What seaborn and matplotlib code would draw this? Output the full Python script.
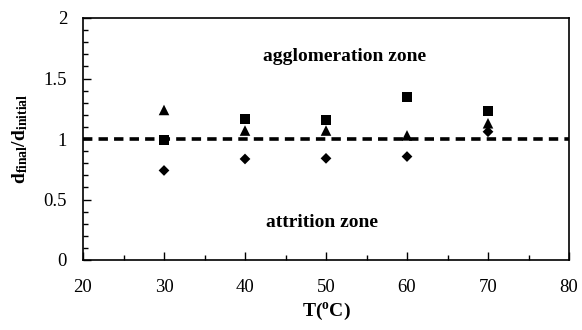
import numpy as np
import pandas as pd
import matplotlib
matplotlib.use("Agg")
import matplotlib.pyplot as plt
import seaborn as sns
from matplotlib.ticker import MultipleLocator

# Temperatures (degC) and size ratios d_final/d_initial for three runs
temperature = [30, 40, 50, 60, 70]
ratio_square = [0.99, 1.165, 1.157, 1.35, 1.23]
ratio_triangle = [1.24, 1.07, 1.07, 1.03, 1.13]
ratio_diamond = [0.74, 0.835, 0.84, 0.855, 1.06]
series_names = ["square", "triangle", "diamond"]

x_ticks = [20, 30, 40, 50, 60, 70, 80]
y_ticks = [0, 0.5, 1, 1.5, 2]
y_tick_labels = ["0", "0.5", "1", "1.5", "2"]

df = pd.concat([
    pd.DataFrame({"T": temperature, "ratio": vals, "series": name})
    for name, vals in zip(series_names, [ratio_square, ratio_triangle, ratio_diamond])
], ignore_index=True)

sns.set_theme(style="ticks")
plt.rcParams["font.family"] = ["Liberation Serif", "DejaVu Serif"]
plt.rcParams["mathtext.fontset"] = "custom"
plt.rcParams["mathtext.rm"] = "Liberation Serif"
plt.rcParams["mathtext.it"] = "Liberation Serif:italic"
plt.rcParams["mathtext.bf"] = "Liberation Serif:bold"

fig = plt.figure(figsize=(5.82, 3.30), dpi=100)
ax = fig.add_axes([83 / 582, 1 - 260 / 330, (569 - 83) / 582, (260 - 18) / 330])

# reference line separating the two zones
ax.plot([20, 80], [1, 1], color="black", lw=2.6, linestyle=(0, (2.6, 1.7)), zorder=1)

sns.scatterplot(
    data=df, x="T", y="ratio", style="series", size="series", ax=ax,
    markers={"square": "s", "triangle": "^", "diamond": "D"},
    sizes={"square": 52, "triangle": 58, "diamond": 30},
    color="black", edgecolor="black", linewidth=0,
    legend=False, zorder=3,
)

ax.set_xlim(20, 80)
ax.set_ylim(0, 2)
ax.set_xticks(x_ticks)
ax.set_yticks(y_ticks)
ax.set_yticklabels(y_tick_labels)
ax.xaxis.set_minor_locator(MultipleLocator(5))
ax.yaxis.set_minor_locator(MultipleLocator(0.1))
ax.tick_params(axis="both", which="major", direction="in", length=5.5, width=1.0,
               labelsize=13.5, color="black", labelcolor="black")
ax.tick_params(axis="both", which="minor", direction="in", length=3.5, width=1.0, color="black")
ax.tick_params(axis="x", which="major", pad=14)
ax.tick_params(axis="y", which="major", pad=11.5)

for side in ["left", "bottom", "top", "right"]:
    ax.spines[side].set_visible(True)
    ax.spines[side].set_color("black")
    ax.spines[side].set_linewidth(1.2)

ax.set_xlabel(r"$\mathbf{T(^{o}C)}$", fontsize=14, color="black", labelpad=3)
ax.set_ylabel(r"$\mathbf{d_{final}/d_{initial}}$", fontsize=14, color="black", labelpad=10)

ax.text(52.3, 1.68, "agglomeration zone", ha="center", va="center",
        fontsize=14, fontweight="bold", color="black")
ax.text(49.5, 0.31, "attrition zone", ha="center", va="center",
        fontsize=14, fontweight="bold", color="black")

fig.savefig("out.png", dpi=100)
